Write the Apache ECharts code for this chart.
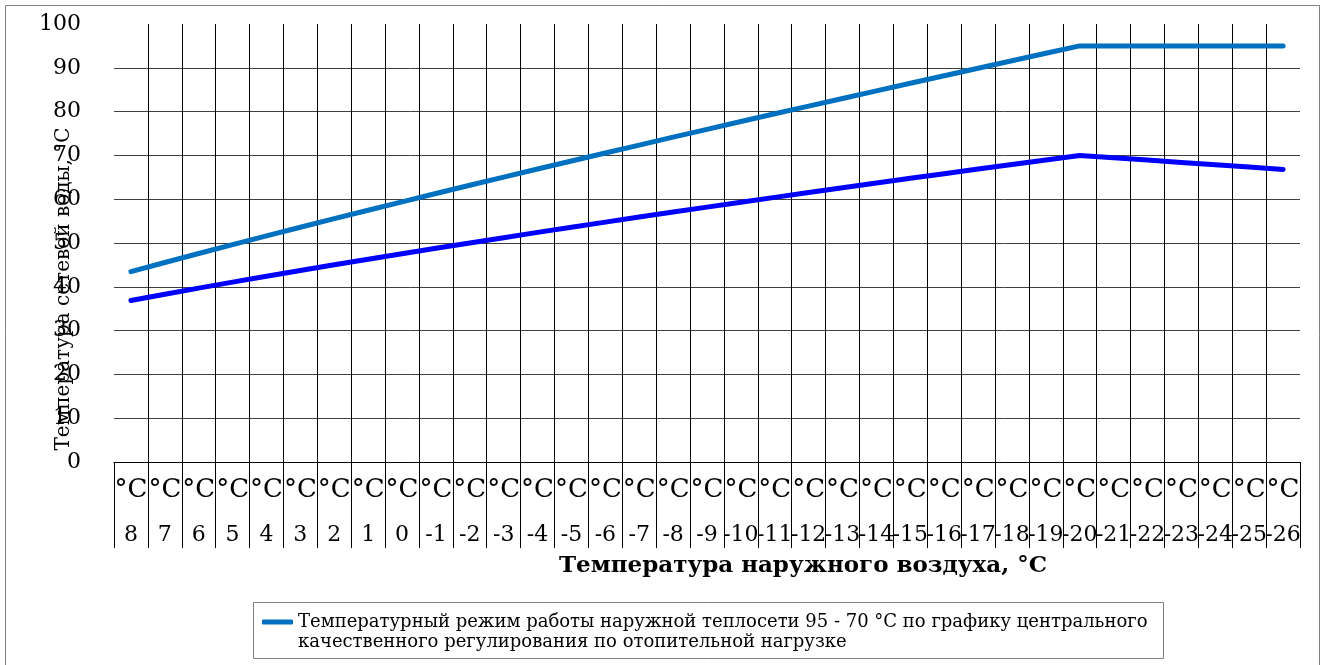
<!DOCTYPE html>
<html><head><meta charset="utf-8">
<script src="https://cdn.jsdelivr.net/npm/echarts@6/dist/echarts.min.js"></script>
<style>html,body{margin:0;padding:0;background:#fff}#c{width:1327px;height:665px}</style>
</head><body><div id="c"></div>
<script>
const categories = ['8','7','6','5','4','3','2','1','0','-1','-2','-3','-4','-5','-6','-7','-8','-9','-10','-11','-12','-13','-14','-15','-16','-17','-18','-19','-20','-21','-22','-23','-24','-25','-26'];
const supplyTemp = [43.46,45.54,47.60,49.62,51.62,53.60,55.55,57.48,59.40,61.30,63.18,65.04,66.89,68.73,70.55,72.36,74.16,75.95,77.73,79.50,81.25,83.00,84.74,86.47,88.19,89.91,91.61,93.31,95.00,95.00,95.00,95.00,95.00,95.00,95.00];
const returnTemp = [36.88,38.31,39.70,41.07,42.41,43.73,45.02,46.30,47.56,48.80,50.02,51.22,52.42,53.60,54.76,55.92,57.06,58.19,59.31,60.42,61.52,62.61,63.69,64.76,65.82,66.88,67.93,68.97,70.00,69.47,68.93,68.40,67.87,67.33,66.80];
const yMin = 0, yMax = 100, yStep = 10;
const categoryUnit = '°C';
const supplyName = 'Температурный режим работы наружной теплосети 95 - 70 °C по графику центрального\nкачественного регулирования по отопительной нагрузке';
const returnName = 'Обратная вода';
const xTitle = 'Температура наружного воздуха, °С';
const yTitle = 'Температура сетевой воды, °С';

const FONT = 'DejaVu Serif';
const chart = echarts.init(document.getElementById('c'), null, {renderer:'canvas'});
chart.setOption({
  animation: false,
  backgroundColor: '#fff',
  grid: {left: 114, right: 27, top: 24, bottom: 203, containLabel: false},
  legend: {
    data: [supplyName],
    left: 262, top: 592, padding: 0,
    icon: 'roundRect',
    itemWidth: 31, itemHeight: 5,
    formatter: name => ' \n' + name,
    textStyle: {fontFamily: FONT, fontSize: 18, color: '#000', lineHeight: 20}
  },
  xAxis: {
    type: 'category', data: categories, boundaryGap: true,
    axisLine: {show: true, lineStyle: {color: '#000', width: 1}},
    axisTick: {show: true, interval: 0, length: 86, lineStyle: {color: '#000', width: 1}},
    axisLabel: {
      interval: 0, margin: 8, hideOverlap: false,
      formatter: v => '{u|' + categoryUnit + '}\n{n|' + v + '}',
      rich: {
        u: {fontFamily: FONT, fontSize: 26, lineHeight: 40, color: '#000'},
        n: {fontFamily: FONT, fontSize: 22, lineHeight: 50, color: '#000'}
      }
    },
    splitLine: {show: true, interval: 0, showMinLine: false, showMaxLine: false, lineStyle: {color: '#000', width: 1}}
  },
  yAxis: {
    type: 'value', min: yMin, max: yMax, interval: yStep,
    axisLine: {show: false}, axisTick: {show: false},
    axisLabel: {margin: 33, fontFamily: FONT, fontSize: 22, color: '#000'},
    splitLine: {show: true, showMaxLine: false, lineStyle: {color: '#404040', width: 1}}
  },
  series: [
    {name: supplyName, type: 'line', data: supplyTemp, symbol: 'none', showSymbol: false,
     color: '#0070C0', lineStyle: {color: '#0070C0', width: 5, cap: 'round', join: 'round'}},
    {name: returnName, type: 'line', data: returnTemp, symbol: 'none', showSymbol: false,
     color: '#0000FF', lineStyle: {color: '#0000FF', width: 5, cap: 'round', join: 'round'}}
  ],
  graphic: [
    {type: 'rect', silent: true, z: -1, shape: {x: 5.5, y: 5.5, width: 1314, height: 662}, style: {fill: 'none', stroke: '#808080', lineWidth: 1}},
    {type: 'rect', silent: true, shape: {x: 253.5, y: 602.5, width: 910, height: 56}, style: {fill: 'none', stroke: '#808080', lineWidth: 1}},
    {type: 'text', silent: true, x: 803, y: 566, style: {text: xTitle, fontFamily: FONT, fontSize: 23, fontWeight: 'bold', fill: '#000', align: 'center', verticalAlign: 'middle'}},
    {type: 'text', silent: true, x: 64, y: 289, rotation: Math.PI/2, style: {text: yTitle, fontFamily: FONT, fontSize: 20, fill: '#000', align: 'center', verticalAlign: 'middle'}}
  ]
});
</script>
</body></html>
